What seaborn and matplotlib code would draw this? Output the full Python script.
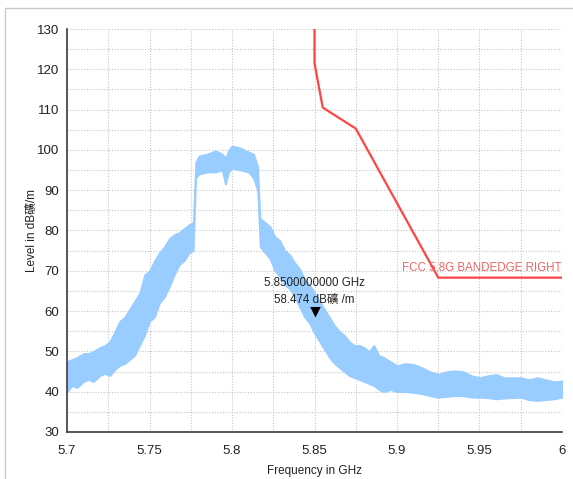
import numpy as np
import matplotlib
matplotlib.use("Agg")
import matplotlib.pyplot as plt
import matplotlib.patches as patches
from matplotlib.ticker import MultipleLocator
import seaborn as sns

# spectrum envelope (GHz, dB uV/m)
freq = [5.700, 5.703, 5.706, 5.710, 5.713, 5.716, 5.720, 5.723, 5.726, 5.729,
        5.732, 5.735, 5.738, 5.741, 5.744, 5.747, 5.750, 5.753, 5.756, 5.759,
        5.762, 5.765, 5.768, 5.771, 5.774, 5.7765, 5.778, 5.780, 5.785, 5.790,
        5.794, 5.796, 5.798, 5.800, 5.805, 5.810, 5.813, 5.8155, 5.817, 5.820,
        5.823, 5.826, 5.829, 5.832, 5.835, 5.838, 5.841, 5.844, 5.847, 5.850,
        5.853, 5.856, 5.859, 5.862, 5.865, 5.868, 5.871, 5.874, 5.877, 5.880,
        5.883, 5.886, 5.889, 5.892, 5.896, 5.900, 5.905, 5.910, 5.915, 5.920,
        5.925, 5.930, 5.935, 5.940, 5.945, 5.950, 5.955, 5.960, 5.965, 5.970,
        5.975, 5.980, 5.985, 5.990, 5.995, 6.000]
level_lo = [40.0, 41.5, 41.0, 42.5, 43.0, 42.5, 44.0, 44.5, 44.0, 45.5,
            46.5, 47.0, 48.0, 49.0, 51.5, 54.0, 57.5, 58.5, 62.0, 63.5,
            66.0, 69.0, 71.5, 72.5, 74.5, 75.0, 93.0, 94.0, 94.5, 94.5,
            95.0, 91.5, 94.5, 95.5, 95.0, 94.5, 93.0, 90.0, 76.0, 74.5,
            73.0, 70.0, 68.5, 66.5, 65.5, 63.5, 61.0, 58.5, 57.0, 54.5,
            52.5, 50.5, 48.5, 47.0, 46.0, 45.0, 44.0, 43.5, 43.0, 42.5,
            42.0, 41.5, 40.5, 40.0, 40.5, 40.0, 40.0, 39.8, 39.5, 39.0,
            38.6, 38.8, 39.0, 39.0, 38.6, 38.6, 38.5, 38.2, 38.4, 38.5,
            38.6, 38.0, 37.8, 38.0, 38.2, 38.6]
level_hi = [47.5, 48.0, 48.5, 49.5, 49.5, 50.0, 51.0, 51.5, 52.5, 55.0,
            57.5, 58.5, 60.5, 62.5, 64.5, 69.0, 70.0, 72.5, 74.5, 76.0,
            78.0, 79.0, 79.5, 80.5, 81.5, 82.0, 97.0, 98.5, 99.0, 99.8,
            99.0, 98.0, 100.0, 101.0, 100.5, 99.5, 99.0, 96.0, 83.0, 82.0,
            81.0, 78.5, 77.5, 75.0, 74.0, 72.0, 70.5, 68.0, 66.5, 64.5,
            62.5, 60.5, 58.5, 56.5, 55.0, 54.0, 52.5, 51.5, 51.5, 51.0,
            50.0, 51.5, 49.0, 48.5, 47.5, 46.5, 47.0, 46.8, 46.0, 45.0,
            44.3, 45.0, 45.2, 45.0, 44.0, 43.5, 44.0, 44.3, 43.5, 43.5,
            43.5, 43.0, 43.5, 43.0, 42.5, 42.7]

# limit line
limit_freq = [5.850, 5.850, 5.855, 5.875, 5.925, 6.000]
limit_level = [131.0, 121.5, 110.5, 105.3, 68.3, 68.3]
limit_name = "FCC 5.8G BANDEDGE RIGHT"

# marker
mk_freq = 5.85
mk_level = 58.474

unit = "dB\u7926/m"

sns.set_style("white")
narrow = ["Liberation Sans Narrow", "Liberation Sans", "DejaVu Sans", "Noto Sans CJK JP"]
regular = ["Liberation Sans", "DejaVu Sans", "Noto Sans CJK JP"]
plt.rcParams["font.family"] = regular

fig = plt.figure(figsize=(5.73, 4.79), dpi=100)
ax = fig.add_axes([67 / 573, 47 / 479, 495 / 573, 403 / 479])

# outer frame of the window
fig.patches.append(patches.Rectangle((5 / 573, -0.02), 1.0, (471 / 479) + 0.02,
                                     transform=fig.transFigure, fill=False,
                                     edgecolor="#c8c8c8", linewidth=1.0))

ax.fill_between(freq, level_lo, level_hi, color="#99ccff", linewidth=1.2,
                edgecolor="#99ccff", zorder=2)

sns.lineplot(x=limit_freq, y=limit_level, sort=False, estimator=None,
             color="#ff4444", linewidth=1.6, ax=ax, zorder=3)
ax.text(6.0, limit_level[-1] + 0.8, limit_name, ha="right", va="bottom",
        color="#f06565", fontsize=8.3, family=regular)

# marker: triangle with its tip on the point
tri = [(0, 0), (-1, 2), (1, 2), (0, 0)]
sns.scatterplot(x=[mk_freq], y=[mk_level], marker=tri, s=230, color="black",
                linewidth=0, ax=ax, zorder=5)
ax.annotate("%.10f GHz" % mk_freq, (mk_freq, mk_level), xytext=(0, 24.5),
            textcoords="offset points", ha="center", va="center",
            fontsize=8.3, color="#222222", family=narrow)
ax.annotate("%.3f dB\u7926 /m" % mk_level, (mk_freq, mk_level), xytext=(0, 12.5),
            textcoords="offset points", ha="center", va="center",
            fontsize=8.3, color="#222222", family=narrow)

ax.set_xlim(5.7, 6.0)
ax.set_ylim(30, 130)
ax.xaxis.set_minor_locator(MultipleLocator(0.025))
ax.yaxis.set_major_locator(MultipleLocator(10))
ax.yaxis.set_minor_locator(MultipleLocator(5))
ax.set_xticks(np.arange(5.7, 6.001, 0.05))
ax.set_xticklabels(["5.7", "5.75", "5.8", "5.85", "5.9", "5.95", "6"])

ax.grid(True, which="both", color="#c4c4c4", linestyle=(0, (1, 1.5)), linewidth=0.8)
ax.set_axisbelow(True)

for s in ["top", "right"]:
    ax.spines[s].set_visible(False)
for s in ["left", "bottom"]:
    ax.spines[s].set_color("#3c3c3c")
    ax.spines[s].set_linewidth(1.2)

ax.tick_params(which="both", direction="inout", color="#3c3c3c", width=1.2)
ax.tick_params(which="major", length=7)
ax.tick_params(which="minor", length=6)
ax.tick_params(axis="y", labelsize=9.5, labelcolor="#222222", pad=2)
ax.tick_params(axis="x", labelsize=9.5, labelcolor="#222222", pad=6)
for lab in ax.get_xticklabels() + ax.get_yticklabels():
    lab.set_family(narrow)

ax.set_xlabel("Frequency in GHz", fontsize=8.5, color="#222222")
ax.set_ylabel("Level in " + unit, fontsize=8.5, color="#222222", family=regular)
ax.yaxis.set_label_coords(-29 / 495, 0.5)
ax.xaxis.set_label_coords(0.5, -33 / 403)

fig.savefig("out.png", dpi=100)
